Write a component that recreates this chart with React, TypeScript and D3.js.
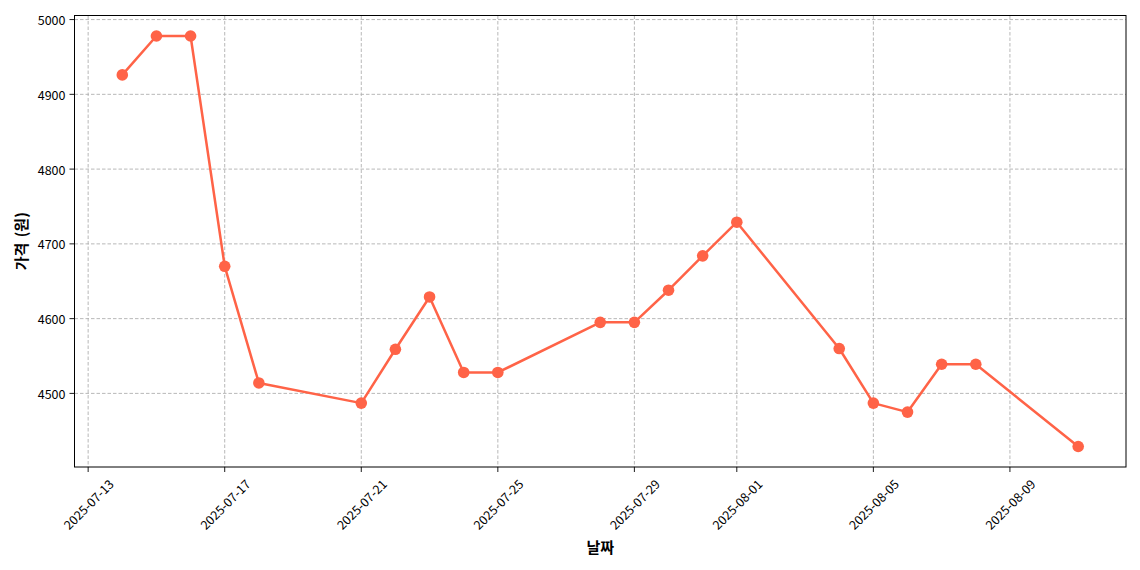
import React, { useRef, useEffect } from 'react';
import * as d3 from 'd3';

const dates = [
  '2025-07-14', '2025-07-15', '2025-07-16', '2025-07-17', '2025-07-18',
  '2025-07-21', '2025-07-22', '2025-07-23', '2025-07-24', '2025-07-25',
  '2025-07-28', '2025-07-29', '2025-07-30', '2025-07-31', '2025-08-01',
  '2025-08-04', '2025-08-05', '2025-08-06', '2025-08-07', '2025-08-08',
  '2025-08-11',
];
const prices = [
  4926, 4978, 4978, 4670, 4514,
  4487, 4559, 4629, 4528, 4528,
  4595, 4595, 4638, 4684, 4729,
  4560, 4487, 4475, 4539, 4539,
  4429,
];
const xTicks = [
  '2025-07-13', '2025-07-17', '2025-07-21', '2025-07-25', '2025-07-29',
  '2025-08-01', '2025-08-05', '2025-08-09',
];
const yTicks = [4500, 4600, 4700, 4800, 4900, 5000];

const FONT = '"Noto Sans CJK KR", "Noto Sans", sans-serif';
const COLOR = '#FF6347';

const App: React.FC = () => {
  const svgRef = useRef<SVGSVGElement | null>(null);

  useEffect(() => {
    if (!svgRef.current) return;
    const svg = d3.select(svgRef.current);
    svg.selectAll('*').remove();

    const left = 74.5, right = 1126, top = 15.5, bottom = 467;
    const parse = (s: string) => new Date(s + 'T00:00:00Z');
    const data = dates.map((d, i) => ({ date: parse(d), value: prices[i] }));

    const t0 = +data[0].date, t1 = +data[data.length - 1].date;
    const padT = (t1 - t0) * 0.05;
    const x = d3.scaleUtc()
      .domain([new Date(t0 - padT), new Date(t1 + padT)])
      .range([left, right]);

    const vMin = d3.min(prices) || 0, vMax = d3.max(prices) || 0;
    const padV = (vMax - vMin) * 0.05;
    const y = d3.scaleLinear()
      .domain([vMin - padV, vMax + padV])
      .range([bottom, top]);

    const g = svg.append('g');

    // grid
    g.selectAll('.vgrid')
      .data(xTicks.map(parse))
      .enter()
      .append('line')
      .attr('x1', d => x(d)).attr('x2', d => x(d))
      .attr('y1', top).attr('y2', bottom)
      .attr('stroke', '#b0b0b0')
      .attr('stroke-width', 0.9).attr('stroke-dasharray', '3.5,2');

    g.selectAll('.hgrid')
      .data(yTicks)
      .enter()
      .append('line')
      .attr('x1', left).attr('x2', right)
      .attr('y1', d => y(d)).attr('y2', d => y(d))
      .attr('stroke', '#b0b0b0')
      .attr('stroke-width', 0.9).attr('stroke-dasharray', '3.5,2');

    // line
    const line = d3.line<{ date: Date; value: number }>()
      .x(d => x(d.date))
      .y(d => y(d.value));

    g.append('path')
      .datum(data)
      .attr('fill', 'none')
      .attr('stroke', COLOR)
      .attr('stroke-width', 2.5)
      .attr('stroke-linejoin', 'round')
      .attr('d', line);

    g.selectAll('.dot')
      .data(data)
      .enter()
      .append('circle')
      .attr('cx', d => x(d.date))
      .attr('cy', d => y(d.value))
      .attr('r', 5.8)
      .attr('fill', COLOR);

    // frame
    g.append('rect')
      .attr('x', left).attr('y', top)
      .attr('width', right - left).attr('height', bottom - top)
      .attr('fill', 'none').attr('stroke', '#000').attr('stroke-width', 1);

    // x ticks
    const xt = g.selectAll('.xtick')
      .data(xTicks)
      .enter()
      .append('g')
      .attr('transform', d => `translate(${x(parse(d))},0)`);
    xt.append('line')
      .attr('y1', bottom).attr('y2', bottom + 5)
      .attr('stroke', '#000').attr('stroke-width', 0.9);
    xt.append('text')
      .attr('transform', `translate(0,${bottom + 37}) rotate(-45)`)
      .attr('text-anchor', 'middle')
      .attr('dominant-baseline', 'central')
      .style('font-family', FONT)
      .style('font-size', '12.5px')
      .attr('fill', '#000')
      .text(d => d);

    // y ticks
    const yt = g.selectAll('.ytick')
      .data(yTicks)
      .enter()
      .append('g')
      .attr('transform', d => `translate(0,${y(d)})`);
    yt.append('line')
      .attr('x1', left - 5).attr('x2', left)
      .attr('stroke', '#000').attr('stroke-width', 0.9);
    yt.append('text')
      .attr('x', left - 9)
      .attr('text-anchor', 'end')
      .attr('dominant-baseline', 'central')
      .style('font-family', FONT)
      .style('font-size', '12.5px')
      .attr('fill', '#000')
      .text(d => d);

    // axis labels
    svg.append('text')
      .attr('x', (left + right) / 2)
      .attr('y', 546)
      .attr('text-anchor', 'middle')
      .attr('dominant-baseline', 'central')
      .style('font-family', FONT)
      .style('font-size', '15px')
      .style('font-weight', 'bold')
      .text('날짜');

    svg.append('text')
      .attr('transform', `translate(20,${(top + bottom) / 2}) rotate(-90)`)
      .attr('text-anchor', 'middle')
      .attr('dominant-baseline', 'central')
      .style('font-family', FONT)
      .style('font-size', '15px')
      .style('font-weight', 'bold')
      .style('word-spacing', '2px')
      .text('가격 (원)');
  }, []);

  return (
    <svg
      ref={svgRef}
      width={1140}
      height={570}
      style={{ position: 'absolute', left: 0, top: 0, background: '#fff' }}
    />
  );
};

export default App;
